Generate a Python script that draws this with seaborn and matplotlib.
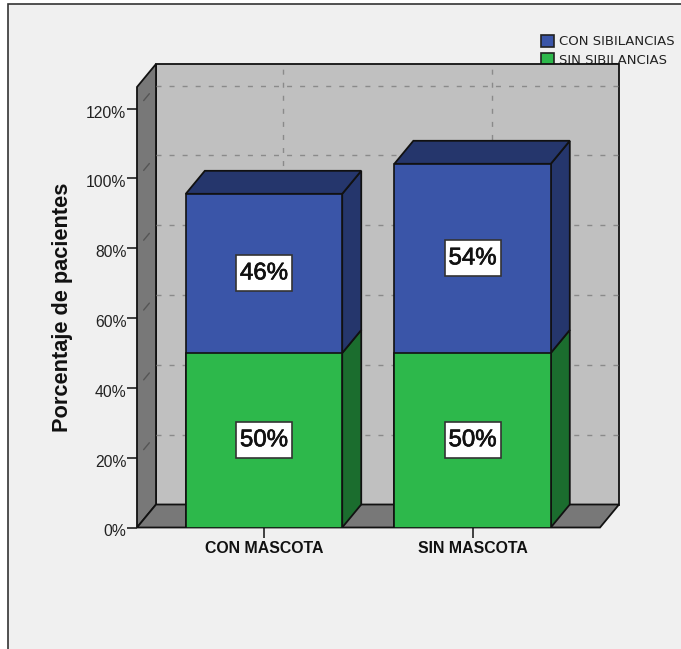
import matplotlib
matplotlib.use("Agg")
import matplotlib.patheffects as pe
import matplotlib.pyplot as plt
from matplotlib.patches import Polygon, Rectangle
from matplotlib.transforms import ScaledTranslation
import seaborn as sns

categories = ["CON MASCOTA", "SIN MASCOTA"]
sin_sibilancias = [50, 50]
con_sibilancias = [45.6, 54.2]
sin_labels = ["50%", "50%"]
con_labels = ["46%", "54%"]
yticks = [0, 20, 40, 60, 80, 100, 120]

BLUE, BLUE_DARK = "#3A55A8", "#25366C"
GREEN, GREEN_DARK = "#2DB84B", "#1B6D2E"
WALL, WALL_DARK = "#C0C0C0", "#787878"
BG = "#F0F0F0"
LINE = "#111111"

W, H = 681, 649
sns.set_style("white")
plt.rcParams["font.family"] = ["Liberation Sans", "DejaVu Sans"]

fig = plt.figure(figsize=(W / 100, H / 100), dpi=100, facecolor="white")
# marco gris del grafico, se corta por la derecha y por abajo
fig.patches.append(Rectangle((8 / W, -0.01), 1.0, 1 - 4 / H + 0.01, transform=fig.transFigure,
                             facecolor=BG, edgecolor="#333333", linewidth=1.2, zorder=-1))

ax = fig.add_axes([137 / W, 1 - 527.5 / H, (600 - 137) / W, (527.5 - 87) / H])
ax.patch.set_visible(False)

total = [a + b for a, b in zip(sin_sibilancias, con_sibilancias)]
sns.barplot(x=categories, y=total, color=BLUE, saturation=1, width=0.75,
            edgecolor=LINE, linewidth=1.2, zorder=3, ax=ax)
sns.barplot(x=categories, y=sin_sibilancias, color=GREEN, saturation=1, width=0.75,
            edgecolor=LINE, linewidth=1.2, zorder=3.1, ax=ax)

xmin, xmax = -0.609, 1.611
ymax = 126.2
ax.set_xlim(xmin, xmax)
ax.set_ylim(0, ymax)

# profundidad del efecto 3D, en unidades de datos
px_y = 440.5 / ymax
dx = 19 / 208.5
dy = 23 / px_y


def poly(pts, color, z):
    p = Polygon(pts, closed=True, facecolor=color, edgecolor=LINE, linewidth=1.3,
                zorder=z, clip_on=False, joinstyle="miter")
    ax.add_patch(p)


# paredes y suelo
poly([(xmin + dx, dy), (xmax + dx, dy), (xmax + dx, ymax + dy), (xmin + dx, ymax + dy)], WALL, 1)
poly([(xmin, 0), (xmin + dx, dy), (xmin + dx, ymax + dy), (xmin, ymax)], WALL_DARK, 1.1)
poly([(xmin, 0), (xmax, 0), (xmax + dx, dy), (xmin + dx, dy)], WALL_DARK, 1.1)

# rejilla discontinua sobre las paredes
grid_kw = dict(color="#8A8A8A", linewidth=1, dashes=(3.6, 5.8), clip_on=False)
for t in yticks[1:]:
    ax.plot([xmin + dx, xmax + dx], [t + dy, t + dy], zorder=1.5, **grid_kw)
    # en la pared izquierda solo se ve un trazo corto
    ax.plot([xmin + 0.35 * dx, xmin + 0.65 * dx], [t + 0.35 * dy, t + 0.65 * dy],
            color="#555555", linewidth=1, clip_on=False, zorder=1.5)
for i in range(len(categories)):
    ax.plot([i + dx, i + dx], [dy, ymax + dy], zorder=1.5, **grid_kw)

# caras laterales y superiores de cada barra
for i in range(len(categories)):
    x0 = i - 0.375
    x1 = i + 0.375
    g = sin_sibilancias[i]
    t = total[i]
    poly([(x1, 0), (x1 + dx, dy), (x1 + dx, g + dy), (x1, g)], GREEN_DARK, 2.8)
    poly([(x1, g), (x1 + dx, g + dy), (x1 + dx, t + dy), (x1, t)], BLUE_DARK, 2.8)
    poly([(x0, t), (x1, t), (x1 + dx, t + dy), (x0 + dx, t + dy)], BLUE_DARK, 2.8)


def value_label(x, y, s):
    w = 56 / 208.5
    h = 36 / px_y
    ax.add_patch(Rectangle((x - w / 2, y - h / 2), w, h, facecolor="white",
                           edgecolor="#333333", linewidth=1.2, zorder=6))
    txt = ax.text(x, y, s, ha="center", va="center", fontsize=17.3, color="#111111", zorder=7)
    txt.set_path_effects([pe.withStroke(linewidth=0.5, foreground="#111111")])


for i in range(len(categories)):
    value_label(i, sin_sibilancias[i] / 2, sin_labels[i])
    value_label(i, sin_sibilancias[i] + con_sibilancias[i] / 2, con_labels[i])

sns.despine(ax=ax, top=True, right=True, left=True, bottom=True)
ax.set_yticks(yticks, [f"{t}%" for t in yticks], fontsize=11.3, color="#222222")
ax.tick_params(axis="y", left=True, length=7.2, width=1.2, color="#222222", pad=0.5)
# las etiquetas del eje quedan un poco por debajo de su marca
down = ScaledTranslation(0, -3 / 100, fig.dpi_scale_trans)
for lab in ax.get_yticklabels():
    lab.set_transform(lab.get_transform() + down)
ax.set_xticks(range(len(categories)), categories, fontsize=11.4, fontweight="bold", color="#111111")
ax.tick_params(axis="x", bottom=True, length=7.2, width=1.2, color="#222222", pad=2.5)
ax.set_ylabel("Porcentaje de pacientes", fontsize=15.7, fontweight="bold", color="#111111")
ax.yaxis.set_label_coords((73 - 137) / (600 - 137), 0.5)
ax.set_xlabel("")

handles = [Rectangle((0, 0), 1, 1, facecolor=BLUE, edgecolor="#222222", linewidth=1.2),
           Rectangle((0, 0), 1, 1, facecolor=GREEN, edgecolor="#222222", linewidth=1.2)]
leg = ax.legend(handles, ["CON SIBILANCIAS", "SIN SIBILANCIAS"], loc="upper left",
                bbox_to_anchor=((541 - 137) / (600 - 137), 1 + (87 - 35) / 440.5),
                frameon=False, prop={"family": "DejaVu Sans", "size": 9.5},
                handlelength=1.0, handleheight=1.0, handletextpad=0.4,
                labelspacing=0.36, borderpad=0, borderaxespad=0)
leg.set_zorder(0.5)
for txt in leg.get_texts():
    txt.set_color("#222222")

fig.savefig("out.png", dpi=100, facecolor=fig.get_facecolor())
